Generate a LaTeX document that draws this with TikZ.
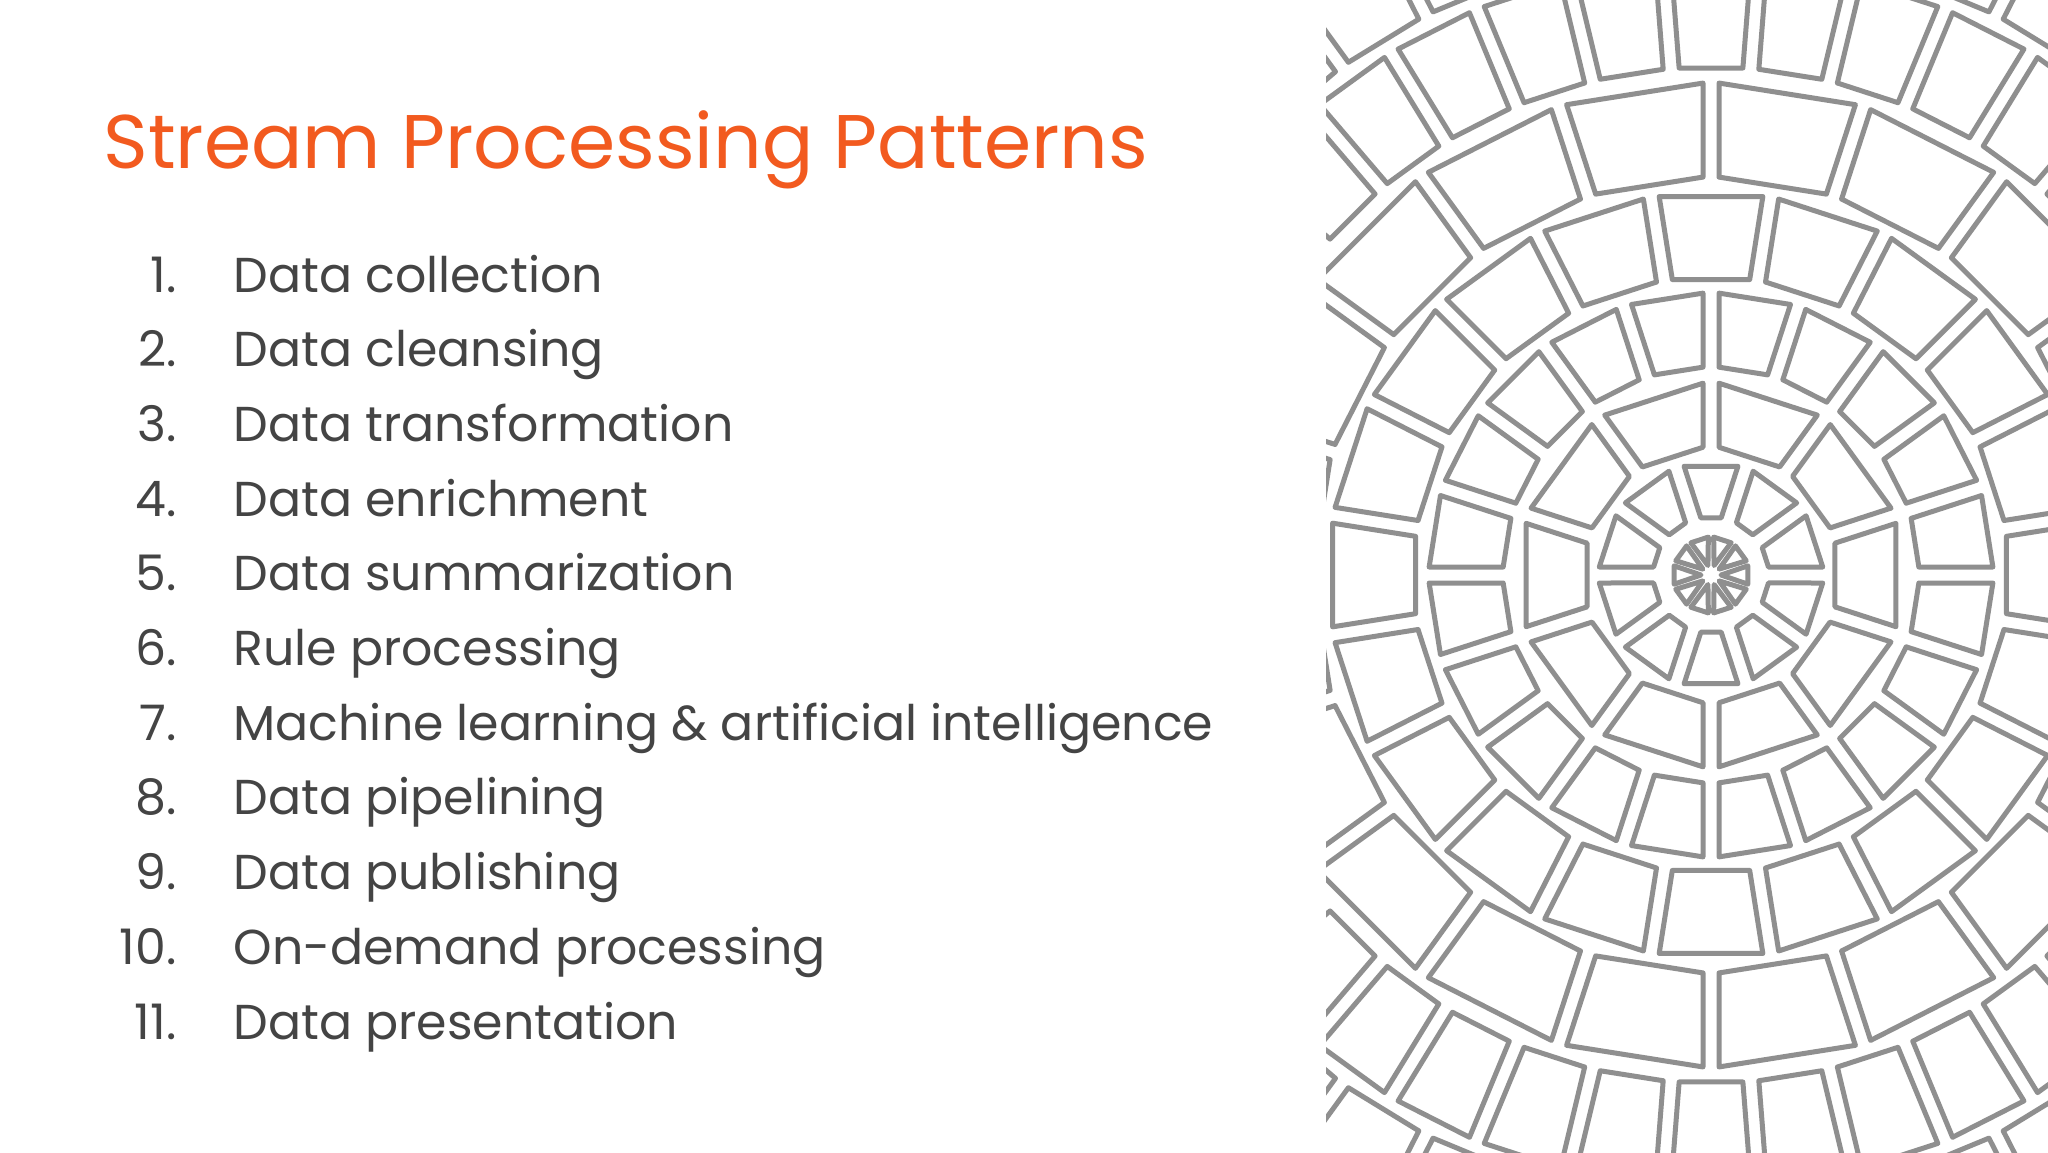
\documentclass[tikz,border=0pt]{standalone}
\usepackage{fontspec}
\setmainfont{Poppins}
\definecolor{ttl}{HTML}{F25A1F}
\definecolor{txt}{HTML}{444444}
\definecolor{pat}{HTML}{8F8F8F}
\begin{document}
\begin{tikzpicture}[x=1pt,y=-1pt,
  item/.style={anchor=base west,text=txt,font=\fontsize{49}{58}\selectfont},
  num/.style={anchor=base east,text=txt,font=\fontsize{49}{58}\selectfont},
  tile/.style={draw=pat,line width=5pt,line join=round}]
\fill[white] (0,0) rectangle (2048,1152);
\useasboundingbox (0,0) rectangle (2048,1152);
\node[anchor=base west,text=ttl,font=\fontsize{76}{84}\selectfont] (title) at (100,168) {Stream Processing Patterns};
\foreach \n/\t [count=\i] in {1./Data collection,2./Data cleansing,3./Data transformation,4./Data enrichment,5./Data summarization,6./Rule processing,7./Machine learning \& artificial intelligence,8./Data pipelining,9./Data publishing,10./On-demand processing,11./Data presentation}{
  \pgfmathsetmacro\yy{292+(\i-1)*74.7}
  \node[num] (n\i) at (180,\yy) {\n};
  \node[item] (t\i) at (230,\yy) {\t};
}
\begin{scope}
\clip (1326,0) rectangle (2048,1152);
\begin{scope}[shift={(1711,575)}]
\foreach \ra/\rb/\ns/\off in {50/120/10/0,120/200/10/18,200/290/20/0,290/390/20/9,390/500/20/0,500/620/40/4.5,620/750/40/0}{
  \pgfmathsetmacro\step{360/\ns}
  \pgfmathsetmacro\da{8/(\ra+8)*57.3}
  \pgfmathsetmacro\db{8/(\rb-8)*57.3}
  \foreach \k in {1,...,\ns}{
    \pgfmathsetmacro\aa{\off+\k*\step}
    \pgfmathsetmacro\ab{\aa+\step}
    \draw[tile] ({\aa+\da}:{\ra+8}) -- ({\ab-\da}:{\ra+8}) -- ({\ab-\db}:{\rb-8}) -- ({\aa+\db}:{\rb-8}) -- cycle;
  }
}
\foreach \k in {0,36,...,324}{
  \draw[tile] (\k:10) -- ({\k+14}:38) -- ({\k-14}:38)-- cycle;
}
\end{scope}
\end{scope}
\end{tikzpicture}
\end{document}
